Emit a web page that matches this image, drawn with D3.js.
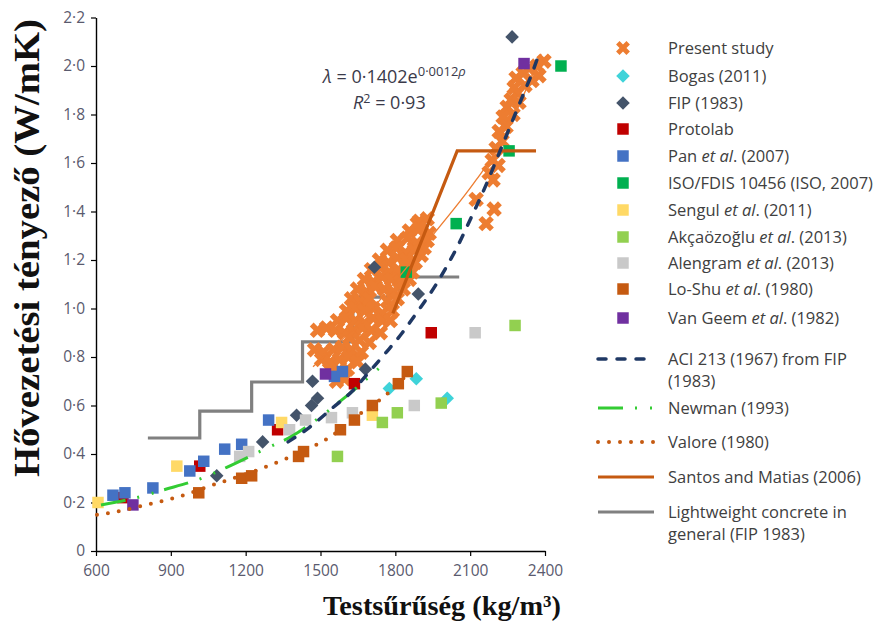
<!DOCTYPE html>
<html><head><meta charset="utf-8">
<script src="https://cdn.jsdelivr.net/npm/d3@7"></script>
<style>body{margin:0;background:#fff}svg{display:block}</style>
</head><body>
<svg id="chart" width="891" height="624"></svg>
<script>
// ---------- DATA ----------
const xTicks = [600, 900, 1200, 1500, 1800, 2100, 2400];
const yTicks = [0, 0.2, 0.4, 0.6, 0.8, 1.0, 1.2, 1.4, 1.6, 1.8, 2.0, 2.2];

const presentStudy = [
 [2396,2.02],[2368,2.00],[2336,1.99],[2312,1.97],[2284,1.95],[2376,1.96],[2348,1.94],[2320,1.92],[2288,1.89],[2264,1.86],[2296,1.85],[2248,1.83],[2272,1.80],[2232,1.79],[2244,1.75],[2216,1.73],[2228,1.69],[2204,1.66],[2188,1.61],[2212,1.59],[2176,1.56],[2192,1.53],[2276,1.91],
 [2124,1.45],[2196,1.41],[2164,1.35],
 [1896,1.36],[1916,1.30],[1876,1.25],[1904,1.22],[1848,1.19],[1868,1.15],[1828,1.12],
 [1888,1.35],[1928,1.37],
 [1856,1.32],[1896,1.33],[1936,1.31],
 [1808,1.28],[1848,1.29],[1888,1.27],[1928,1.28],
 [1768,1.24],[1804,1.25],[1840,1.23],[1876,1.24],[1916,1.25],
 [1736,1.20],[1772,1.19],[1808,1.21],[1844,1.20],[1880,1.19],
 [1704,1.16],[1740,1.17],[1776,1.15],[1812,1.16],[1852,1.15],
 [1676,1.12],[1712,1.11],[1748,1.13],[1784,1.12],[1820,1.11],[1856,1.12],
 [1648,1.08],[1684,1.07],[1720,1.09],[1756,1.08],[1792,1.07],[1832,1.08],
 [1624,1.04],[1660,1.03],[1696,1.04],[1768,1.03],[1808,1.04],
 [1604,0.99],[1640,1.00],[1676,0.99],[1712,1.00],[1748,0.98],[1788,0.99],
 [1568,0.95],[1604,0.96],[1640,0.95],[1676,0.94],[1712,0.96],[1748,0.95],[1780,0.95],
 [1488,0.91],[1524,0.92],[1560,0.91],[1596,0.90],[1632,0.91],[1668,0.92],[1704,0.91],[1740,0.90],
 [1616,0.88],[1656,0.87],[1696,0.86],
 [1476,0.83],[1512,0.82],[1552,0.83],[1588,0.84],[1624,0.83],[1664,0.82],
 [1504,0.79],[1540,0.78],[1576,0.79],[1612,0.80],[1648,0.78],
 [1536,0.75],[1572,0.74],[1608,0.75],
 [1564,0.70],[1596,0.71]
];
const bogas = [[1776,0.67],[1884,0.71],[2008,0.63]];
const fip = [[1084,0.31],[1268,0.45],[1404,0.56],[1464,0.60],[1488,0.63],[1468,0.70],[1680,0.75],[1716,1.17],[1892,1.06],[2268,2.12]];
const protolab = [[708,0.22],[1016,0.35],[1328,0.50],[1636,0.69],[1944,0.90]];
const pan = [[668,0.23],[716,0.24],[828,0.26],[976,0.33],[1032,0.37],[1116,0.42],[1184,0.44],[1292,0.54],[1556,0.72],[1588,0.74]];
const iso = [[1844,1.15],[2044,1.35],[2256,1.65],[2464,2.00]];
const sengul = [[608,0.20],[924,0.35],[1344,0.53],[1708,0.56]];
const akca = [[1568,0.39],[1748,0.53],[1808,0.57],[1984,0.61],[2280,0.93]];
const alengram = [[1176,0.39],[1212,0.41],[1376,0.50],[1440,0.54],[1544,0.55],[1628,0.57],[1876,0.60],[2120,0.90]];
const loShu = [[1012,0.24],[1184,0.30],[1224,0.31],[1412,0.39],[1432,0.41],[1580,0.50],[1636,0.54],[1708,0.60],[1812,0.69],[1848,0.74]];
const vanGeem = [[748,0.19],[1520,0.73],[2316,2.01]];

const aci213 = [[1370,0.45],[1456,0.51],[1548,0.59],[1628,0.66],[1688,0.73],[1764,0.82],[1828,0.90],[1884,0.98],[1964,1.10],[2004,1.17],[2056,1.27],[2088,1.34],[2168,1.52],[2216,1.64],[2268,1.77],[2316,1.89],[2348,1.97],[2376,2.05]];
const newman = [[620,0.19],[764,0.22],[864,0.25],[1024,0.30],[1124,0.345],[1276,0.42],[1388,0.475],[1508,0.56],[1588,0.625],[1736,0.755]];
const valore = [[604,0.15],[656,0.157],[816,0.194],[928,0.223],[1068,0.272],[1268,0.342],[1368,0.383],[1468,0.43],[1544,0.474],[1636,0.55],[1708,0.60],[1812,0.69],[1848,0.73]];
const santos = [[1790,0.98],[2048,1.65],[2364,1.65]];
const lwcGeneral = [[808,0.466],[1016,0.577],[1224,0.697],[1428,0.862],[1630,1.047],[1816,1.13],[2056,1.13]];
const trend = [[1470,0.76],[1700,0.99],[1908,1.25],[2124,1.53],[2204,1.65],[2384,2.05]];

// ---------- CHART ----------
const svg = d3.select("#chart");
const x = d3.scaleLinear().domain([600, 2400]).range([96, 545]);
const y = d3.scaleLinear().domain([0, 2.2]).range([551, 17.5]);
const fmt = d => d === 0 ? "0" : d3.format(".1f")(d).replace(".", "\u00B7");
const tickFont = "'Open Sans', sans-serif";

const gy = svg.append("g").attr("transform", "translate(96,0)")
  .call(d3.axisLeft(y).tickValues(yTicks).tickFormat(fmt).tickSize(5).tickSizeOuter(0).tickPadding(6));
const gx = svg.append("g").attr("transform", "translate(0,551)")
  .call(d3.axisBottom(x).tickValues(xTicks).tickFormat(d3.format("d")).tickSize(5).tickSizeOuter(0).tickPadding(9));
[gx, gy].forEach(g => {
  g.select(".domain").attr("stroke", "#000").attr("stroke-width", 1.4);
  g.selectAll(".tick line").attr("stroke", "#000").attr("stroke-width", 1.2);
  g.selectAll(".tick text").attr("fill", "#5a5a6e").style("font-family", tickFont).style("font-size", "15.5px");
});

const lineGen = c => d3.line().x(d => x(d[0])).y(d => y(d[1])).curve(c);
const lineSeries = [
  { data: trend, color: "#ed7d31", w: 1.3, dash: null, cap: "butt", curve: d3.curveMonotoneX },
  { data: lwcGeneral, color: "#808080", w: 3.2, dash: null, cap: "butt", curve: d3.curveStepAfter },
  { data: valore, color: "#c55a11", w: 4, dash: "0,11", cap: "round", curve: d3.curveMonotoneX },
  { data: newman, color: "#33cc33", w: 3, dash: "25,12,2,13,2,11", cap: "butt", curve: d3.curveMonotoneX },
  { data: santos, color: "#c55a11", w: 3.2, dash: null, cap: "butt", curve: d3.curveLinear },
  { data: aci213, color: "#1f3864", w: 3.5, dash: "8,11", cap: "round", curve: d3.curveMonotoneX }
];
function drawLine(g, s) {
  g.append("path").datum(s.data)
    .attr("d", lineGen(s.curve))
    .attr("fill", "none").attr("stroke", s.color).attr("stroke-width", s.w)
    .attr("stroke-dasharray", s.dash).attr("stroke-linecap", s.cap);
}
// grey step line sits beneath the markers
drawLine(svg.append("g"), lineSeries[1]);

// markers
const symX = d3.symbol(d3.symbolCross, 150)();
const symXLeg = d3.symbol(d3.symbolCross, 120)();
const symSq = d3.symbol(d3.symbolSquare, 132)();
const symDi = d3.symbol(d3.symbolSquare, 92)();
const markerDefs = {
  x: { path: symX, leg: symXLeg, rot: 45 },
  sq: { path: symSq, leg: symSq, rot: 0 },
  di: { path: symDi, leg: symDi, rot: 45 }
};
const scatterSeries = [
  { data: presentStudy, color: "#ed7d31", m: "x" },
  { data: bogas, color: "#3fd3d9", m: "di" },
  { data: fip, color: "#44546a", m: "di" },
  { data: protolab, color: "#c00000", m: "sq" },
  { data: pan, color: "#4472c4", m: "sq" },
  { data: iso, color: "#00b050", m: "sq" },
  { data: sengul, color: "#ffd966", m: "sq" },
  { data: akca, color: "#92d050", m: "sq" },
  { data: alengram, color: "#c9c9c9", m: "sq" },
  { data: loShu, color: "#c55a11", m: "sq" },
  { data: vanGeem, color: "#7030a0", m: "sq" }
];
const gMarks = svg.append("g");
scatterSeries.forEach(s => {
  const md = markerDefs[s.m];
  gMarks.append("g").selectAll("path").data(s.data).join("path")
    .attr("d", md.path)
    .attr("fill", s.color)
    .attr("transform", d => `translate(${x(d[0])},${y(d[1])}) rotate(${md.rot})`);
});

// remaining lines on top
const gLines = svg.append("g");
lineSeries.forEach((s, i) => { if (i !== 1) drawLine(gLines, s); });

// equation
const eq = svg.append("g").style("font-family", tickFont).attr("fill", "#3a3a4a");
const t1 = eq.append("text").attr("x", 323).attr("y", 83).style("font-size", "18px");
t1.append("tspan").style("font-style", "italic").text("\u03BB");
t1.append("tspan").text(" = 0\u00B71402e");
t1.append("tspan").attr("dy", -7).style("font-size", "13px").text("0\u00B70012");
t1.append("tspan").style("font-size", "13px").style("font-style", "italic").text("\u03C1");
const t2 = eq.append("text").attr("x", 353).attr("y", 109).style("font-size", "18px");
t2.append("tspan").style("font-style", "italic").text("R");
t2.append("tspan").attr("dy", -6).style("font-size", "12.5px").text("2");
t2.append("tspan").attr("dy", 6).text(" = 0\u00B793");

// axis titles
svg.append("text").attr("transform", "translate(39,477) rotate(-90)")
  .attr("textLength", 458).attr("lengthAdjust", "spacingAndGlyphs")
  .style("font-family", "'Liberation Serif', 'Times New Roman', serif").style("font-weight", "bold")
  .style("font-size", "35px").attr("fill", "#111")
  .text("H\u0151vezet\u00E9si t\u00E9nyez\u0151 (W/mK)");
svg.append("text").attr("x", 323).attr("y", 615)
  .attr("textLength", 238).attr("lengthAdjust", "spacingAndGlyphs")
  .style("font-family", "'Liberation Serif', 'Times New Roman', serif").style("font-weight", "bold")
  .style("font-size", "28px").attr("fill", "#111")
  .text("Tests\u0171r\u0171s\u00E9g (kg/m\u00B3)");

// legend
const legendMarkers = [
  { y: 48, parts: [["Present study", 0]], s: 0 },
  { y: 76, parts: [["Bogas (2011)", 0]], s: 1 },
  { y: 103, parts: [["FIP (1983)", 0]], s: 2 },
  { y: 129, parts: [["Protolab", 0]], s: 3 },
  { y: 156, parts: [["Pan ", 0], ["et al", 1], [". (2007)", 0]], s: 4 },
  { y: 183, parts: [["ISO/FDIS 10456 (ISO, 2007)", 0]], s: 5 },
  { y: 210, parts: [["Sengul ", 0], ["et al", 1], [". (2011)", 0]], s: 6 },
  { y: 237, parts: [["Ak\u00E7a\u00F6zo\u011Flu ", 0], ["et al", 1], [". (2013)", 0]], s: 7 },
  { y: 263, parts: [["Alengram ", 0], ["et al", 1], [". (2013)", 0]], s: 8 },
  { y: 289, parts: [["Lo-Shu ", 0], ["et al", 1], [". (1980)", 0]], s: 9 },
  { y: 318, parts: [["Van Geem ", 0], ["et al", 1], [". (1982)", 0]], s: 10 }
];
const legendLines = [
  { y: 359, lines: ["ACI 213 (1967) from FIP", "(1983)"], s: 5 },
  { y: 408, lines: ["Newman (1993)"], s: 3 },
  { y: 442, lines: ["Valore (1980)"], s: 2 },
  { y: 477, lines: ["Santos and Matias (2006)"], s: 4 },
  { y: 512, lines: ["Lightweight concrete in", "general (FIP 1983)"], s: 1 }
];
const gLeg = svg.append("g").style("font-family", tickFont).style("font-size", "16.5px").attr("fill", "#404040");
legendMarkers.forEach(it => {
  const s = scatterSeries[it.s], md = markerDefs[s.m];
  gLeg.append("path").attr("d", md.leg).attr("fill", s.color)
    .attr("transform", `translate(623,${it.y}) rotate(${md.rot})`);
  const t = gLeg.append("text").attr("x", 668).attr("y", it.y + 6);
  it.parts.forEach(p => t.append("tspan").style("font-style", p[1] ? "italic" : "normal").text(p[0]));
});
legendLines.forEach(it => {
  const s = lineSeries[it.s];
  gLeg.append("line").attr("x1", 598).attr("x2", 654).attr("y1", it.y).attr("y2", it.y)
    .attr("stroke", s.color).attr("stroke-width", s.w).attr("stroke-dasharray", s.dash).attr("stroke-linecap", s.cap);
  it.lines.forEach((ln, i) => gLeg.append("text").attr("x", 668).attr("y", it.y + 6 + i * 22).text(ln));
});
</script>
</body></html>
